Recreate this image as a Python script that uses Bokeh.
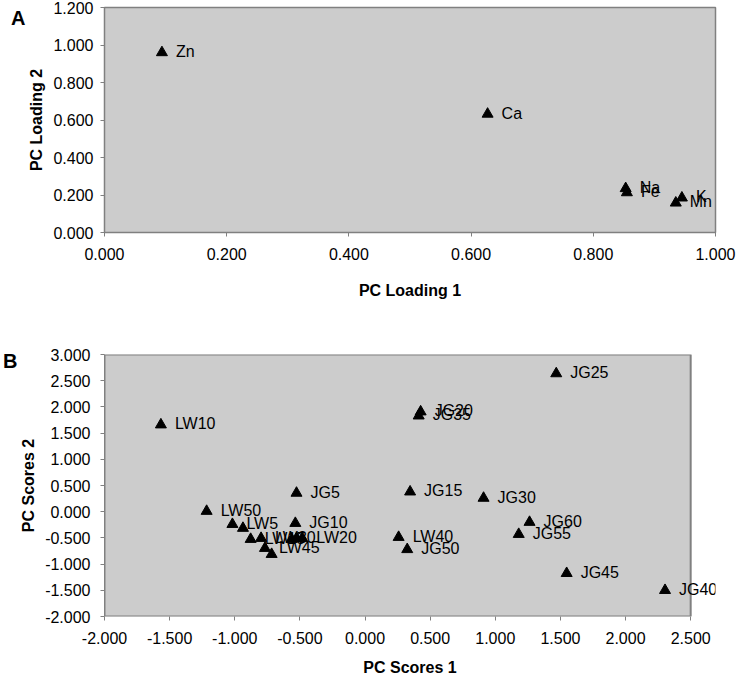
from bokeh.plotting import figure
from bokeh.layouts import column
from bokeh.models import (ColumnDataSource, Range1d, FixedTicker, NumeralTickFormatter,
                          LabelSet, LinearAxis, CustomJSTickFormatter)
from bokeh.core.properties import value
from bokeh.embed import file_html
from bokeh.resources import INLINE

# ---- Data: panel A (PC loadings) ----
elements = ["Zn", "Ca", "Na", "Fe", "K", "Mn"]
loading1 = [0.094, 0.627, 0.853, 0.855, 0.945, 0.935]
loading2 = [0.960, 0.632, 0.235, 0.213, 0.185, 0.158]
loading_ticks_x = [0.0, 0.2, 0.4, 0.6, 0.8, 1.0]
loading_ticks_y = [0.0, 0.2, 0.4, 0.6, 0.8, 1.0, 1.2]

# ---- Data: panel B (PC scores) ----
samples = ["JG5", "JG10", "JG15", "JG20", "JG25", "JG30", "JG35", "JG40",
           "JG45", "JG50", "JG55", "JG60",
           "LW5", "LW10", "LW15", "LW20", "LW25", "LW30", "LW35", "LW40",
           "LW45", "LW50", "LW55", "LW60"]
score1 = [-0.526, -0.535, 0.346, 0.427, 1.468, 0.910, 0.412, 2.303,
          1.548, 0.324, 1.180, 1.263,
          -1.018, -1.567, -0.878, -0.482, -0.937, -0.798, -0.717, 0.258,
          -0.768, -1.216, -0.563, -0.526]
score2 = [0.356, -0.220, 0.380, 1.908, 2.636, 0.260, 1.830, -1.500,
          -1.176, -0.720, -0.430, -0.200,
          -0.240, 1.660, -0.525, -0.506, -0.314, -0.506, -0.812, -0.487,
          -0.697, 0.010, -0.525, -0.506]
# labels that are visible in the original (others are hidden under the cluster)
shown = ["JG5", "JG10", "JG15", "JG20", "JG25", "JG30", "JG35", "JG40",
         "JG45", "JG50", "JG55", "JG60",
         "LW5", "LW10", "LW15", "LW20", "LW30", "LW40", "LW45", "LW50"]
score_ticks_x = [-2.0, -1.5, -1.0, -0.5, 0.0, 0.5, 1.0, 1.5, 2.0, 2.5]
score_ticks_y = [-2.0, -1.5, -1.0, -0.5, 0.0, 0.5, 1.0, 1.5, 2.0, 2.5, 3.0]
score_xlim = (-2.0, 2.5)
score_ylim = (-2.0, 3.0)

FONT = "Liberation Sans"
GRAY = "#808080"


def style(p, xticks, yticks, xlabel, ylabel, title_standoff, ystandoff):
    p.border_fill_color = "white"
    p.xgrid.visible = False
    p.ygrid.visible = False
    p.xaxis.ticker = FixedTicker(ticks=xticks)
    p.yaxis.ticker = FixedTicker(ticks=yticks)
    for ax in (p.xaxis, p.yaxis):
        ax.formatter = NumeralTickFormatter(format="0.000")
        ax.axis_line_color = GRAY
        ax.major_tick_line_color = GRAY
        ax.minor_tick_line_color = None
        ax.major_tick_in = 0
        ax.major_tick_out = 4
        ax.major_label_text_font = FONT
        ax.major_label_text_font_size = "16px"
        ax.major_label_text_color = "black"
        ax.axis_label_text_font = FONT
        ax.axis_label_text_font_size = "16px"
        ax.axis_label_text_font_style = "bold"
        ax.axis_label_text_color = "black"
    p.xaxis.axis_label = xlabel
    p.yaxis.axis_label = ylabel
    p.xaxis.major_label_standoff = 11
    p.yaxis.major_label_standoff = ystandoff
    p.xaxis.axis_label_standoff = title_standoff
    p.yaxis.axis_label_standoff = 5


def panel_letter(p, letter, y):
    ax = LinearAxis(ticker=FixedTicker(ticks=[y]),
                    formatter=CustomJSTickFormatter(code="return '%s'" % letter))
    ax.axis_line_color = None
    ax.major_tick_line_color = None
    ax.minor_tick_line_color = None
    ax.major_tick_out = 0
    ax.major_tick_in = 0
    ax.major_label_standoff = 0
    ax.major_label_text_font = FONT
    ax.major_label_text_font_size = "20px"
    ax.major_label_text_font_style = "bold"
    ax.major_label_text_color = "black"
    p.add_layout(ax, "left")


def point_labels(p, xs, ys, names):
    src = ColumnDataSource(dict(x=xs, y=ys, name=names))
    p.add_layout(LabelSet(x="x", y="y", text="name", source=src, x_offset=14,
                          y_offset=1, text_font=value(FONT), text_font_size="16px",
                          text_baseline="middle", text_color="black"))


# ---- Panel A ----
pa = figure(width=738, height=338, output_backend="svg", toolbar_location=None,
            x_range=Range1d(0, 1), y_range=Range1d(0, 1.2),
            min_border_left=90, min_border_right=23, min_border_top=7,
            min_border_bottom=106)
pa.background_fill_color = "#cccccc"
pa.outline_line_color = GRAY
pa.outline_line_width = 1.5
style(pa, loading_ticks_x, loading_ticks_y, "PC Loading 1", "PC Loading 2", 19, 7)
pa.scatter(loading1, loading2, marker="triangle", size=11,
           fill_color="black", line_color="black")
point_labels(pa, loading1, loading2, elements)
panel_letter(pa, "A", 1.144)

# ---- Panel B ----
# frame extends to the right page edge so the "JG40" label is not clipped;
# the grey plot area is drawn for the axis limits only
B_LEFT, B_RIGHT_AREA, B_RIGHT_FRAME = 98, 712, 738
px_per_unit = (B_RIGHT_AREA - B_LEFT) / (score_xlim[1] - score_xlim[0])
x_end = score_xlim[1] + (B_RIGHT_FRAME - B_RIGHT_AREA) / px_per_unit
pb = figure(width=738, height=341, output_backend="svg", toolbar_location=None,
            x_range=Range1d(score_xlim[0], x_end), y_range=Range1d(*score_ylim),
            min_border_left=B_LEFT, min_border_right=0, min_border_top=16,
            min_border_bottom=63)
pb.background_fill_color = "white"
pb.outline_line_color = None
style(pb, score_ticks_x, score_ticks_y, "PC Scores 1", "PC Scores 2", 12, 10)
pb.xaxis.axis_line_color = None
pb.quad(left=[score_xlim[0]], right=[score_xlim[1]], bottom=[score_ylim[0]],
        top=[score_ylim[1]], fill_color="#cccccc", line_color=GRAY, line_width=2)
pb.scatter(score1, score2, marker="triangle", size=11,
           fill_color="black", line_color="black")
lab = [(x, y, n) for x, y, n in zip(score1, score2, samples) if n in shown]
point_labels(pb, [t[0] for t in lab], [t[1] for t in lab], [t[2] for t in lab])
panel_letter(pb, "B", 2.875)

layout = column(pa, pb)
open("out.html", "w").write(file_html(layout, INLINE))
